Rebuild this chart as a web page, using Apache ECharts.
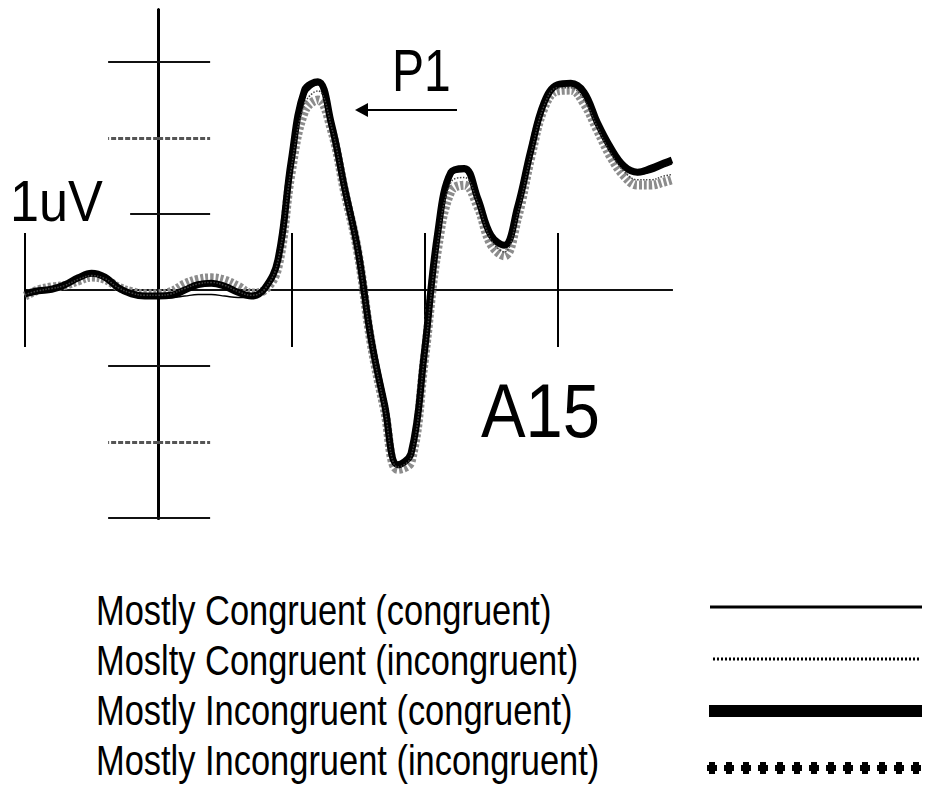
<!DOCTYPE html>
<html><head><meta charset="utf-8">
<script src="https://cdn.jsdelivr.net/npm/echarts@6/dist/echarts.min.js"></script>
<style>html,body{margin:0;padding:0;background:#fff}#c{width:929px;height:791px}</style>
</head><body><div id="c"></div>
<script>
// time in ms, amplitude in uV
const times = [-100,-90,-80,-70,-60,-50,-40,-30,-20,-10,0,10,20,30,40,50,60,70,80,90,100,110,120,130,140,150,160,170,180,190,200,210,220,230,240,250,260,270,280,290,300,310,320,330,340,350,360,370,380,386];
const mcCongruent   = [-0.05,-0.02,0.0,0.05,0.14,0.2,0.15,0.02,-0.06,-0.1,-0.1,-0.1,-0.08,-0.06,-0.06,-0.08,-0.1,-0.1,0.0,0.4,1.65,2.55,2.7,2.2,1.35,0.5,-0.62,-1.5,-2.28,-2.12,-0.8,0.72,1.5,1.56,1.18,0.72,0.57,1.05,1.82,2.47,2.7,2.7,2.56,2.18,1.85,1.62,1.52,1.55,1.62,1.66];
const mcIncongruent = [-0.06,-0.01,0.02,0.06,0.14,0.19,0.15,0.03,-0.04,-0.07,-0.07,-0.05,0.02,0.08,0.1,0.06,-0.02,-0.07,0.01,0.38,1.6,2.45,2.62,2.16,1.32,0.5,-0.66,-1.54,-2.33,-2.2,-0.88,0.62,1.42,1.48,1.15,0.66,0.5,1.0,1.78,2.43,2.66,2.66,2.5,2.14,1.8,1.56,1.45,1.45,1.5,1.52];
const miCongruent   = [-0.05,-0.01,0.01,0.07,0.16,0.22,0.17,0.03,-0.05,-0.08,-0.08,-0.07,0.0,0.07,0.09,0.05,-0.03,-0.08,0.02,0.4,1.7,2.63,2.74,2.2,1.35,0.53,-0.65,-1.5,-2.3,-2.15,-0.82,0.75,1.55,1.6,1.21,0.72,0.59,1.09,1.84,2.47,2.7,2.72,2.6,2.2,1.87,1.63,1.55,1.6,1.67,1.71];
const miIncongruent = [-0.08,0.0,0.04,0.06,0.12,0.17,0.14,0.04,-0.02,-0.05,-0.05,-0.02,0.08,0.14,0.16,0.13,0.05,-0.04,0.0,0.3,1.55,2.35,2.5,2.12,1.3,0.5,-0.7,-1.57,-2.36,-2.26,-0.92,0.55,1.3,1.38,1.1,0.6,0.45,0.95,1.75,2.4,2.62,2.63,2.45,2.1,1.75,1.5,1.38,1.38,1.42,1.45];
const seriesNames = ['Mostly Congruent (congruent)','Moslty Congruent (incongruent)','Mostly Incongruent (congruent)','Mostly Incongruent (incongruent)'];
const xTickValues = [-100,100,200,300];
const yTickBlackLeft = [-3,-1,3];
const yTickBlackRight = [-3,-1,1,3];
const yTickGray = [-2,2];
const yTickShort = [1];
const scaleLabel = '1uV';
const peakLabel = 'P1';
const channelLabel = 'A15';

const FONT = '"Liberation Sans", Arial, sans-serif';
const chart = echarts.init(document.getElementById('c'), null, {renderer:'svg'});
const pairs = arr => times.map((t,i)=>[t, arr[i]]);

function xAx(pos){
  return {type:'value', position:pos, min:-100, max:386,
    axisLine:{show:true, onZero:true, onZeroAxisIndex:0, lineStyle:{color:'#111', width:2}},
    axisTick:{show:true, customValues:xTickValues, length:57, inside:false, lineStyle:{color:'#000', width:2}},
    axisLabel:{show:false}, splitLine:{show:false}};
}
function yAx(pos, ticks, len, tickStyle){
  return {type:'value', position:pos, min:-3, max:3.684,
    axisLine:{show:true, onZero:true, onZeroAxisIndex:0, lineStyle:{color:'#000', width:3}},
    axisTick:{show:true, customValues:ticks, length:len, inside:false, lineStyle:tickStyle},
    axisLabel:{show:false}, splitLine:{show:false}};
}
const blackTick = {color:'#111', width:2};
const grayTick = {color:'#555', width:3, type:[5,2]};

const legendRowsY = [610, 660, 710, 760];
const graphics = [];
seriesNames.forEach((n,i)=>{
  graphics.push({type:'text', x:96, y:legendRowsY[i], scaleX:0.82,
    style:{text:n, x:0, y:0, fill:'#000', font:'42px '+FONT, textAlign:'left', verticalAlign:'middle'}});
});
graphics.push({type:'line', shape:{x1:710,y1:607,x2:922,y2:607}, style:{stroke:'#000', lineWidth:3}});
graphics.push({type:'line', shape:{x1:713,y1:659,x2:920,y2:659}, style:{stroke:'#000', lineWidth:3, lineDash:[2,2]}});
graphics.push({type:'line', shape:{x1:709,y1:711,x2:922,y2:711}, style:{stroke:'#000', lineWidth:12}});
for(let k=0;k<13;k++){
  const cx = 712 + k*17;
  graphics.push({type:'rect', shape:{x:cx-5,y:765,width:10,height:6}, style:{fill:'#000'}});
  graphics.push({type:'rect', shape:{x:cx-3,y:762,width:6,height:12}, style:{fill:'#000'}});
}
graphics.push({type:'text', x:10, y:201, scaleX:0.9,
  style:{text:scaleLabel, x:0, y:0, fill:'#000', font:'58px '+FONT, textAlign:'left', verticalAlign:'middle'}});
graphics.push({type:'text', x:392, y:71, scaleX:0.8,
  style:{text:peakLabel, x:0, y:0, fill:'#000', font:'60px '+FONT, textAlign:'left', verticalAlign:'middle'}});
graphics.push({type:'text', x:481, y:410, scaleX:0.88,
  style:{text:channelLabel, x:0, y:0, fill:'#000', font:'76px '+FONT, textAlign:'left', verticalAlign:'middle'}});
graphics.push({type:'line', shape:{x1:362,y1:110,x2:457,y2:110}, style:{stroke:'#000', lineWidth:2}});
graphics.push({type:'polygon', shape:{points:[[355,110],[368,103],[368,117]]}, style:{fill:'#000'}});

chart.setOption({
  animation:false,
  backgroundColor:'#fff',
  grid:{left:25, top:10, width:647, height:508, containLabel:false},
  xAxis:[xAx('bottom'), xAx('top')],
  yAxis:[
    yAx('left', yTickBlackLeft, 50, blackTick),
    yAx('right', yTickBlackRight, 52, blackTick),
    yAx('left', yTickGray, 50, grayTick),
    yAx('right', yTickGray, 52, grayTick),
    yAx('left', yTickShort, 28, blackTick)
  ],
  series:[
    {name:seriesNames[3], type:'line', data:pairs(miIncongruent), smooth:0.4, showSymbol:false, z:2,
     lineStyle:{color:'#8c8c8c', width:9, type:[3,2]}},
    {name:seriesNames[2], type:'line', data:pairs(miCongruent), smooth:0.4, showSymbol:false, z:3,
     lineStyle:{color:'#000', width:7}},
    {name:seriesNames[0], type:'line', data:pairs(mcCongruent), smooth:0.4, showSymbol:false, z:4,
     lineStyle:{color:'#000', width:1.5}},
    {name:seriesNames[1], type:'line', data:pairs(mcIncongruent), smooth:0.4, showSymbol:false, z:4,
     lineStyle:{color:'#444', width:1.5, type:'dotted'}}
  ],
  graphic:graphics
});
</script></body></html>
